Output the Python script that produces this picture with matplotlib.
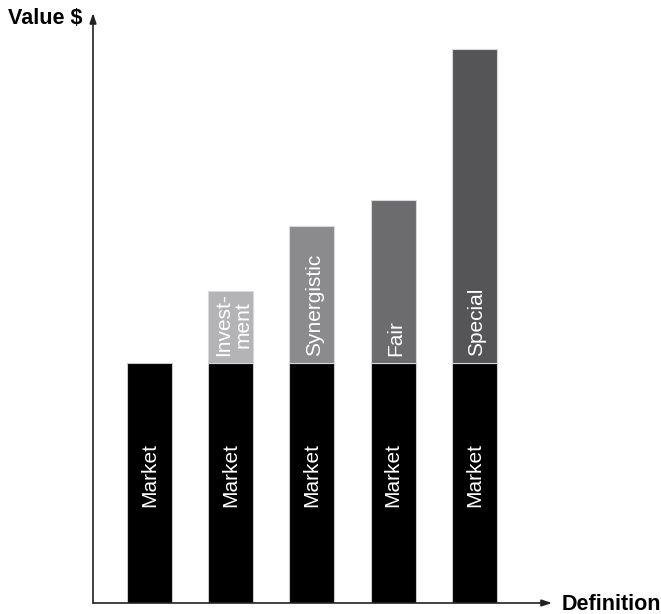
import numpy as np
import matplotlib.pyplot as plt

plt.rcParams['font.family'] = ['Liberation Sans', 'DejaVu Sans']

# value definitions, stacked on top of market value
market = [100, 100, 100, 100, 100]
extra = [0, 30, 57, 68, 131]
extra_labels = ['', 'Invest-\nment', 'Synergistic', 'Fair', 'Special']
extra_colors = ['#000000', '#b4b4b6', '#8b8b8d', '#6c6c6e', '#555557']

fig = plt.figure(figsize=(6.61, 6.14), dpi=100)
ax = fig.add_axes([93 / 661, 11 / 614, 459 / 661, 590 / 614])

x = np.arange(len(market))
w = 0.554
ax.bar(x, market, width=w, color='black', edgecolor='#c8c8c8', linewidth=0.8)
ax.bar(x[1:], extra[1:], width=w, bottom=market[1:], color=extra_colors[1:],
       edgecolor='#d8d8d8', linewidth=0.8)

for i in x:
    ax.text(i, market[i] * 0.535, 'Market', rotation=90, ha='center', va='center',
            color='white', fontsize=15)
    if extra[i]:
        ax.text(i + 0.03, market[i] + 3, extra_labels[i], rotation=90, ha='center',
                va='bottom', color='white', fontsize=15, linespacing=1.05)

ax.set_xlim(-0.695, 4.954)
ax.set_ylim(0, 245.8)
ax.set_xticks([])
ax.set_yticks([])
for s in ax.spines.values():
    s.set_visible(False)

# axis arrows
arrow = dict(arrowstyle='-|>,head_length=0.6,head_width=0.2', color='#222222', lw=1.2,
             shrinkA=0, shrinkB=0)
ax.annotate('', xy=(0, 1), xytext=(0, 0), xycoords='axes fraction', arrowprops=arrow)
ax.annotate('', xy=(1, 0), xytext=(0, 0), xycoords='axes fraction', arrowprops=arrow)

fig.text(8 / 661, 1 - 18 / 614, 'Value $', fontsize=15.5, fontweight='bold',
         ha='left', va='center')
fig.text(562 / 661, 1 - 604 / 614, 'Definition', fontsize=15.5, fontweight='bold',
         ha='left', va='center')

fig.savefig('out.png', dpi=100)
